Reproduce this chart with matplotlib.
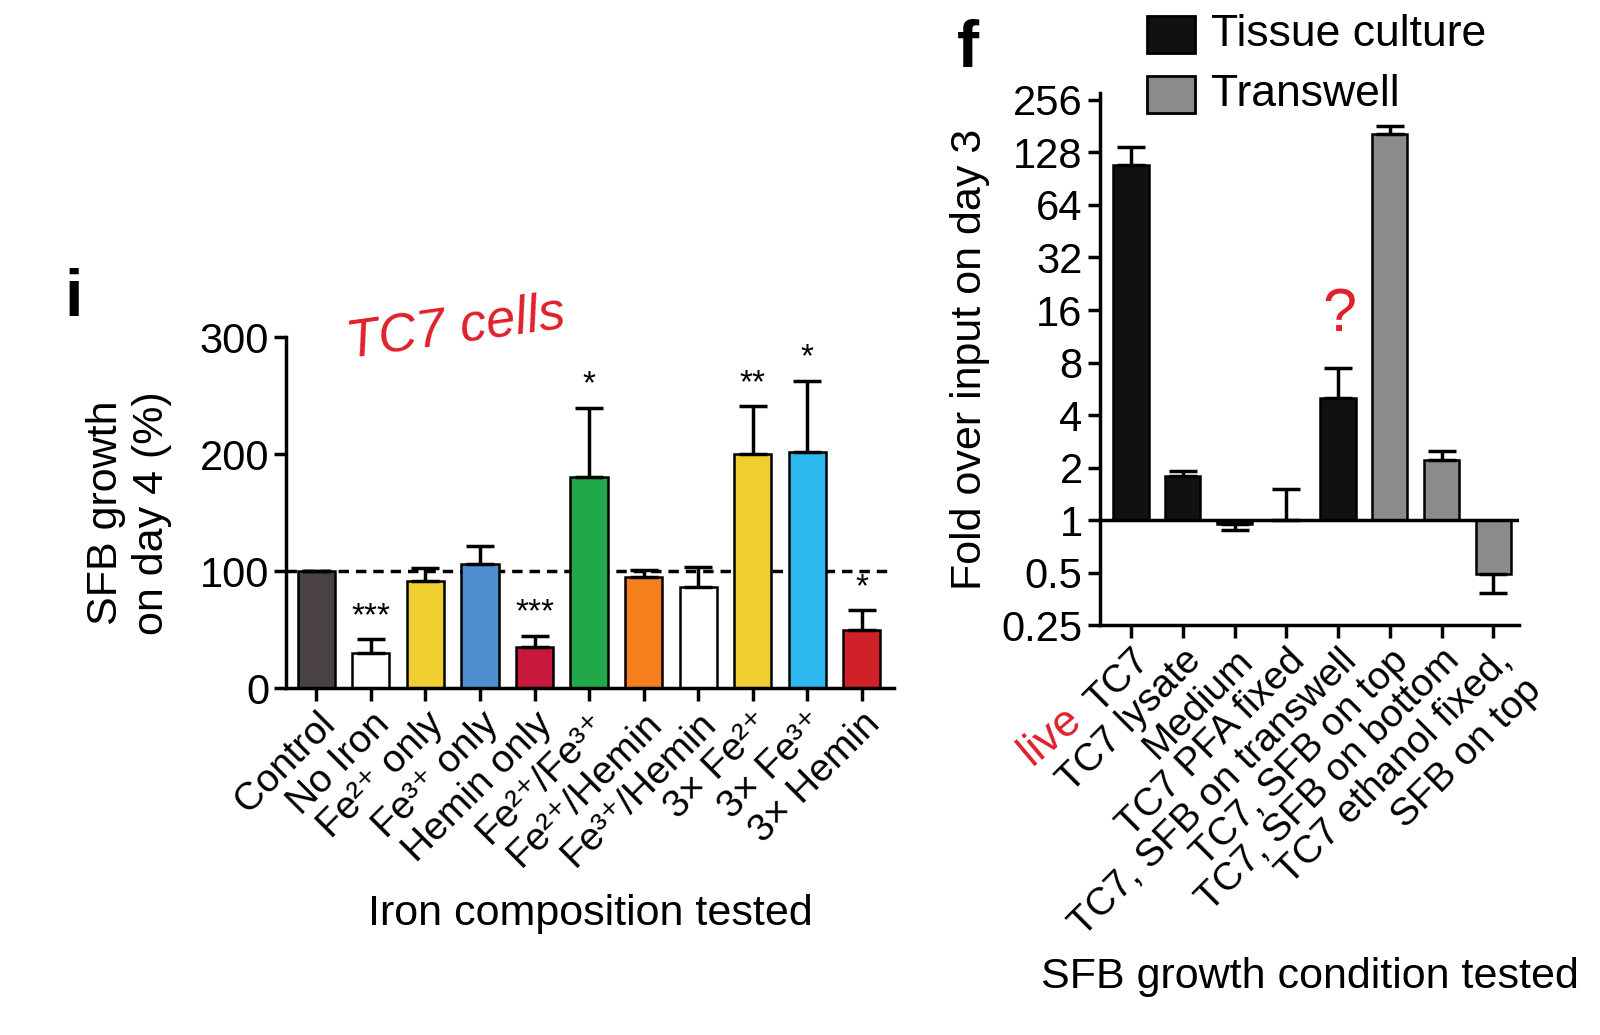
import matplotlib
matplotlib.use("Agg")
import matplotlib.pyplot as plt
import numpy as np
from matplotlib.patches import Rectangle

# Panel i
cats_i = ["Control", "No Iron", "Fe²⁺ only", "Fe³⁺ only", "Hemin only",
          "Fe²⁺/Fe³⁺", "Fe²⁺/Hemin", "Fe³⁺/Hemin",
          "3× Fe²⁺", "3× Fe³⁺", "3× Hemin"]
vals_i = [100, 30, 92, 106, 35, 181, 95, 87, 200, 202, 50]
errtop_i = [100, 42, 103, 122, 45, 240, 101, 104, 241, 263, 67]
colors_i = ["#4a4242", "white", "#efcf2f", "#4f8fd0", "#c8183c", "#22a84a",
            "#f7801e", "white", "#efcf2f", "#2db8f0", "#d02028"]
stars_i = ["", "***", "", "", "***", "*", "", "", "**", "*", "*"]

# Panel f
cats_f = ["TC7", "TC7 lysate", "Medium", "TC7 PFA fixed", "TC7, SFB on transwell",
          "TC7, SFB on top", "TC7, SFB on bottom", "TC7 ethanol fixed,\nSFB on top"]
vals_f = [108, 1.78, 0.95, 1.0, 5.0, 164, 2.2, 0.49]
errend_f = [137, 1.9, 0.88, 1.5, 7.4, 181, 2.5, 0.38]
group_f = ["Tissue culture"] * 5 + ["Transwell"] * 3
gcolor = {"Tissue culture": "#111111", "Transwell": "#8c8a8a"}

plt.rcParams['font.family'] = ['Liberation Sans', 'DejaVu Sans']
fig = plt.figure(figsize=(16, 10.35), dpi=100)

ax = fig.add_axes([0.179, 0.335, 0.38, 0.339])
x = np.arange(len(vals_i))
ax.bar(x, vals_i, width=0.68, color=colors_i, edgecolor="black", linewidth=1.8, zorder=2)
up = [e - v for e, v in zip(errtop_i, vals_i)]
ax.errorbar(x, vals_i, yerr=[np.zeros(len(up)), up], fmt="none", ecolor="black",
            elinewidth=2.5, capsize=10, capthick=2.5, zorder=3)
for xi, e, s in zip(x, errtop_i, stars_i):
    if s:
        ax.text(xi, e + 6, s, ha="center", va="bottom", fontsize=24)
ax.axhline(100, color="black", ls=(0, (3, 2)), lw=2.5, zorder=1)
ax.set_xlim(-0.55, 10.6)
ax.set_ylim(0, 300)
ax.set_yticks([0, 100, 200, 300])
ax.tick_params(axis="y", labelsize=30, width=2.5, length=9)
ax.tick_params(axis="x", width=2.5, length=9)
ax.set_xticks(x)
ax.set_xticklabels(cats_i, rotation=45, ha="right", rotation_mode="anchor", fontsize=28)
for s in ["top", "right"]:
    ax.spines[s].set_visible(False)
for s in ["left", "bottom"]:
    ax.spines[s].set_linewidth(2.5)
ax.set_ylabel("SFB growth\non day 4 (%)", fontsize=31, labelpad=20)
ax.set_xlabel("Iron composition tested", fontsize=31, labelpad=14)
fig.text(0.04, 0.695, "i", fontsize=48, fontweight="bold")
fig.text(0.215, 0.655, "TC7 cells", fontsize=38, color="#e0202a", rotation=8,
         style="italic")

ax2 = fig.add_axes([0.6875, 0.396, 0.262, 0.514])
xf = np.arange(len(vals_f))
hts = [v - 1 for v in vals_f]
ax2.bar(xf, hts, bottom=1, width=0.68, color=[gcolor[g] for g in group_f],
        edgecolor="black", linewidth=1.8, zorder=2)
lo = [max(0, v - e) for v, e in zip(vals_f, errend_f)]
hi = [max(0, e - v) for v, e in zip(vals_f, errend_f)]
ax2.errorbar(xf, vals_f, yerr=[lo, hi], fmt="none", ecolor="black", elinewidth=2.5,
             capsize=10, capthick=2.5, zorder=3)
ax2.axhline(1, color="black", lw=2.5, zorder=4)
ax2.set_yscale("log", base=2)
ticks = [0.25, 0.5, 1, 2, 4, 8, 16, 32, 64, 128, 256]
ax2.set_yticks(ticks)
ax2.set_yticklabels([str(t) for t in ticks])
ax2.minorticks_off()
ax2.set_ylim(0.25, 280)
ax2.set_xlim(-0.6, 7.5)
ax2.tick_params(axis="y", labelsize=30, width=2.5, length=9)
ax2.tick_params(axis="x", width=2.5, length=9)
ax2.set_xticks(xf)
ax2.set_xticklabels(cats_f, rotation=45, ha="right", rotation_mode="anchor", fontsize=28)
for s in ["top", "right"]:
    ax2.spines[s].set_visible(False)
ax2.spines["left"].set_linewidth(2.5)
ax2.spines["bottom"].set_linewidth(2.5)
ax2.set_ylabel("Fold over input on day 3", fontsize=31, labelpad=8)
ax2.set_xlabel("SFB growth condition tested", fontsize=31, labelpad=10)
fig.text(0.598, 0.935, "f", fontsize=48, fontweight="bold")
fig.text(0.837, 0.68, "?", fontsize=44, color="#e0202a", ha="center")
fig.text(0.632, 0.262, "live", fontsize=32, color="#e0202a", rotation=40)

for i, g in enumerate(["Tissue culture", "Transwell"]):
    yy = 0.967 - i * 0.058
    fig.patches.append(Rectangle((0.717, yy - 0.018), 0.030, 0.036, transform=fig.transFigure,
                                 facecolor=gcolor[g], edgecolor="black", lw=2))
    fig.text(0.757, yy, g, fontsize=32, va="center")

fig.savefig("out.png", dpi=100)
